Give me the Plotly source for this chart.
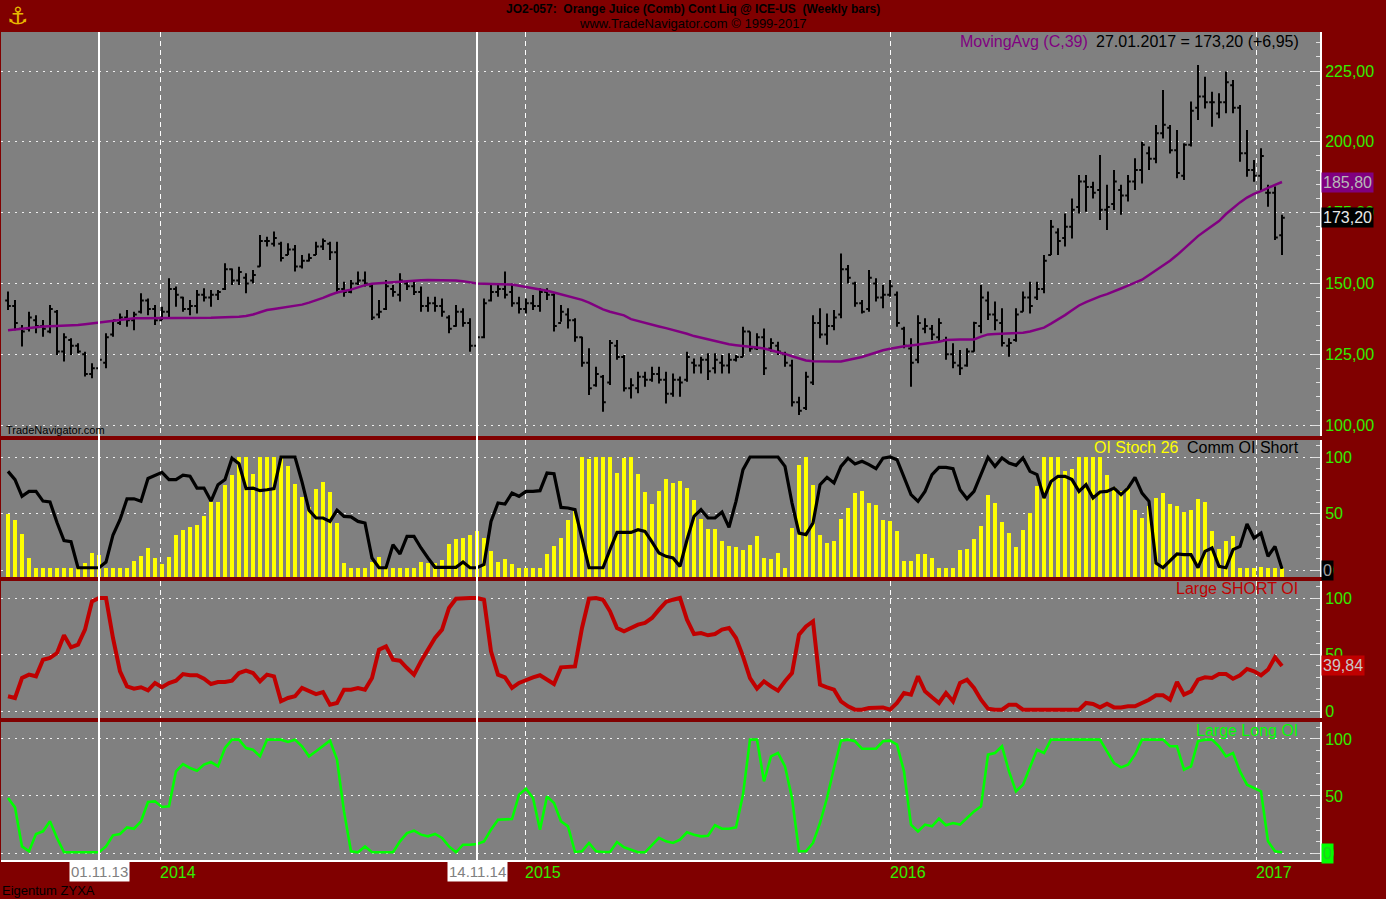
import plotly.graph_objects as go
from plotly.subplots import make_subplots
import pandas as pd

# ---------------- data (weekly bars, Fridays) ----------------
START = "2013-08-02"
N_WEEKS = 183
dates = pd.date_range(START, periods=N_WEEKS, freq="7D")

OPEN = [
    144, 142, 134, 134, 137, 135, 133, 140, 126, 130,
    128, 125, 118, 120, 122, 132, 136, 138, 137, 140,
    144, 141, 137, 140, 148, 145, 141, 142, 146, 145,
    146, 148, 155, 151, 152, 151, 156, 165, 164, 164,
    160, 162, 156, 158, 160, 163, 164, 161, 148, 147,
    150, 151, 149, 139, 141, 148, 146, 150, 149, 147,
    142, 143, 142, 138, 135, 140, 136, 128, 131, 144,
    147, 148, 147, 143, 141, 143, 142, 147, 146, 136,
    139, 137, 131, 122, 114, 117, 115, 128, 124, 113,
    113, 117, 116, 118, 116, 111, 116, 116, 122, 121,
    123, 120, 122, 121, 123, 124, 133, 127, 131, 127,
    128, 125, 121, 108, 106, 115, 136, 132, 135, 139,
    155, 150, 143, 141, 150, 145, 146, 146, 134, 127,
    123, 134, 134, 131, 130, 125, 121, 121, 126, 135,
    144, 139, 136, 128, 130, 140, 145, 145, 148, 160,
    168, 166, 170, 177, 186, 184, 183, 176, 178, 183,
    181, 186, 190, 196, 194, 203, 205, 197, 188, 199,
    212, 216, 214, 210, 214, 220, 212, 196, 190, 188,
    182, 182, 167,
]
HIGH = [
    147.1, 144.1, 135.3, 140.0, 138.8, 137.1, 142.4, 140.6, 132.4, 130.6,
    128.9, 125.9, 121.8, 125.3, 132.4, 137.1, 139.4, 140.6, 140.0, 146.5,
    144.7, 142.4, 141.8, 151.8, 148.9, 145.3, 144.1, 147.7, 148.3, 147.7,
    147.7, 157.1, 155.3, 155.9, 153.6, 154.7, 167.1, 166.5, 168.3, 164.7,
    164.2, 163.6, 160.0, 160.6, 164.7, 165.9, 164.7, 164.7, 150.6, 151.2,
    154.2, 154.2, 149.4, 144.1, 151.2, 149.4, 153.6, 150.6, 150.6, 148.9,
    145.3, 145.3, 144.7, 138.8, 142.4, 141.2, 137.7, 133.5, 144.7, 149.4,
    150.0, 154.2, 150.0, 145.3, 144.7, 145.9, 148.3, 148.3, 146.5, 142.4,
    141.2, 137.7, 131.2, 127.1, 120.6, 117.7, 130.0, 130.0, 124.7, 116.5,
    118.8, 118.8, 120.6, 120.6, 118.8, 118.2, 117.1, 125.9, 123.5, 124.1,
    125.3, 125.3, 124.7, 125.3, 124.7, 134.7, 133.0, 132.4, 134.1, 130.6,
    129.4, 125.9, 123.0, 110.0, 118.8, 138.8, 141.2, 139.4, 140.6, 160.6,
    156.5, 150.6, 144.1, 154.7, 151.8, 149.4, 151.2, 147.1, 134.7, 130.6,
    138.8, 137.7, 135.3, 137.7, 131.2, 128.9, 126.5, 127.1, 136.5, 149.4,
    147.1, 143.6, 141.2, 130.6, 141.2, 147.1, 150.6, 150.6, 160.0, 172.4,
    169.5, 174.7, 180.0, 188.3, 188.3, 185.9, 195.3, 184.8, 190.0, 184.8,
    188.3, 194.2, 200.0, 198.3, 205.9, 218.3, 205.9, 204.2, 199.5, 214.2,
    227.1, 223.0, 217.7, 217.1, 224.8, 221.8, 213.0, 204.2, 193.6, 197.7,
    184.8, 184.2, 174.2,
]
LOW = [
    140.6, 133.5, 127.7, 133.0, 132.4, 131.2, 132.4, 124.7, 122.4, 124.7,
    125.3, 117.1, 116.5, 117.1, 120.0, 131.2, 135.3, 134.7, 133.5, 139.4,
    138.8, 135.3, 137.1, 137.7, 141.8, 140.0, 138.8, 139.4, 143.6, 141.8,
    144.1, 147.7, 149.4, 149.4, 146.5, 150.0, 155.9, 163.0, 163.0, 157.7,
    160.0, 154.2, 155.3, 157.7, 160.0, 161.8, 158.3, 146.5, 145.3, 146.5,
    149.4, 148.9, 137.1, 137.7, 140.6, 145.3, 143.6, 147.7, 145.9, 140.0,
    140.0, 140.0, 138.2, 132.4, 134.7, 134.7, 125.9, 124.1, 130.6, 143.6,
    145.3, 144.7, 141.8, 139.4, 139.4, 140.6, 140.0, 144.1, 133.0, 136.5,
    134.1, 129.4, 120.6, 110.6, 113.5, 104.7, 114.1, 123.0, 111.8, 109.4,
    111.2, 113.5, 115.3, 114.7, 107.6, 110.0, 110.0, 115.3, 118.2, 118.2,
    115.9, 118.2, 118.2, 118.2, 122.4, 124.1, 125.9, 126.5, 117.7, 125.9,
    124.7, 120.6, 106.5, 103.5, 105.3, 114.1, 130.6, 128.3, 133.5, 137.7,
    150.0, 141.8, 139.4, 140.0, 143.6, 141.2, 145.3, 134.7, 127.1, 113.5,
    121.8, 132.4, 130.0, 129.4, 123.0, 120.0, 117.7, 120.6, 125.9, 132.4,
    137.1, 133.5, 127.7, 124.1, 129.4, 140.0, 139.4, 144.1, 146.5, 160.0,
    160.0, 163.0, 165.9, 174.7, 175.3, 180.0, 172.4, 168.9, 175.9, 174.2,
    178.9, 183.0, 185.3, 190.0, 192.4, 201.2, 195.9, 187.1, 186.5, 198.3,
    207.7, 211.8, 205.3, 208.3, 210.1, 210.1, 193.0, 187.7, 185.9, 182.4,
    177.1, 165.3, 160.0,
]
CLOSE = [
    142, 136, 133, 138, 135, 134, 141, 126, 131, 128,
    126, 118, 120, 123, 131, 137, 138, 137, 139, 144,
    141, 137, 140, 148, 146, 141, 142, 146, 145, 146,
    147, 155, 151, 154, 150, 153, 165, 165, 166, 159,
    162, 156, 158, 159, 163, 165, 161, 148, 147, 150,
    151, 150, 138, 140, 149, 147, 151, 149, 147, 142,
    143, 142, 140, 134, 140, 136, 128, 131, 143, 147,
    148, 146, 143, 141, 143, 142, 147, 146, 135, 140,
    137, 131, 122, 113, 118, 108, 129, 124, 113, 114,
    117, 116, 118, 116, 111, 116, 115, 124, 121, 123,
    119, 123, 121, 123, 124, 133, 127, 131, 120, 129,
    126, 122, 108, 105, 117, 136, 132, 135, 138, 155,
    152, 143, 140, 152, 145, 146, 149, 136, 128, 122,
    136, 135, 132, 136, 125, 122, 120, 126, 136, 145,
    139, 137, 129, 129, 139, 145, 142, 148, 158, 170,
    165, 170, 176, 186, 184, 182, 176, 177, 186, 181,
    186, 190, 199, 194, 203, 206, 197, 189, 199, 211,
    216, 214, 214, 214, 221, 212, 196, 190, 188, 195,
    182, 166.25, 173.2,
]
MA39 = [
    133.5, 133.8, 134.1, 134.4, 134.7, 134.8, 134.9, 135.0, 135.0, 135.1,
    135.3, 135.6, 135.9, 136.2, 136.5, 136.8, 137.1, 137.4, 137.7, 137.7,
    137.7, 137.7, 137.7, 137.7, 137.8, 137.8, 137.8, 137.9, 137.9, 137.9,
    138.0, 138.0, 138.0, 138.2, 138.5, 139.0, 139.8, 140.6, 141.0, 141.4,
    141.8, 142.1, 142.5, 143.2, 144.0, 144.9, 145.9, 146.8, 147.3, 147.8,
    148.6, 149.4, 149.9, 150.1, 150.3, 150.5, 150.7, 150.9, 151.0, 151.1,
    151.2, 151.2, 151.2, 151.1, 151.0, 150.8, 150.4, 150.0, 149.9, 149.8,
    149.8, 149.7, 149.6, 149.2, 148.8, 148.4, 147.9, 147.4, 146.8, 146.2,
    145.5, 144.9, 144.2, 143.2, 142.0, 140.8, 140.0, 139.4, 138.7, 137.4,
    136.7, 136.0, 135.4, 134.8, 134.2, 133.6, 132.9, 132.2, 131.4, 130.8,
    130.2, 129.6, 129.0, 128.5, 128.2, 128.0, 127.8, 127.4, 127.0, 126.4,
    125.8, 125.1, 124.3, 123.5, 122.8, 122.5, 122.4, 122.4, 122.4, 122.4,
    122.9, 123.5, 124.0, 124.8, 125.6, 126.4, 126.9, 127.4, 127.8, 128.1,
    128.4, 128.6, 129.0, 129.4, 130.0, 130.2, 130.2, 130.2, 130.2, 131.2,
    132.0, 132.1, 132.2, 132.3, 132.5, 132.6, 133.0, 133.6, 134.4, 135.8,
    137.2, 138.8, 140.5, 142.2, 143.4, 144.5, 145.4, 146.2, 147.3, 148.2,
    149.2, 150.3, 151.3, 153.0, 154.6, 156.3, 158.0, 160.0, 162.2, 164.4,
    166.7, 168.5, 170.3, 172.0, 174.5, 176.6, 178.6, 180.3, 181.6, 182.6,
    183.8, 184.8, 185.8,
]
OI_STOCH = [
    49.5, 44.5, 31.8, 10.6, 2, 2, 2, 2, 2, 2,
    2, 6, 15, 13.5, 2, 2, 2, 2, 8, 12,
    19.5, 11, 5.3, 11.5, 31.3, 35.7, 37.7, 39.5, 47.5, 60.2,
    60.2, 75.5, 83.8, 100, 100, 85, 100, 100, 100, 100,
    91.7, 76, 64.3, 56, 72, 78, 69, 41.6, 6.2, 2,
    2, 2, 7, 11.5, 2, 2, 2, 2, 2, 7,
    6.2, 6.2, 9, 23, 27, 28.3, 31.3, 34.2, 28.3, 16.5,
    7, 10, 5.3, 2, 2, 2, 2, 14.2, 20.9, 28.3,
    44.5, 53, 100, 98.5, 100, 100, 100, 85.8, 99, 100,
    85, 69, 58.4, 69.6, 80.8, 77, 79, 72.5, 62.2, 45.4,
    36.6, 36.6, 25.4, 20.9, 20, 17.4, 22.4, 29.8, 10.6, 10,
    15, 2, 37.2, 92.6, 100, 75.5, 31.3, 23.9, 25.4, 45.1,
    54.9, 68.1, 70.2, 59.3, 57.8, 44.5, 43.6, 34.8, 8.3, 8.3,
    14.2, 14.2, 10.6, 2, 2, 2, 18, 18.9, 27.7, 38.6,
    66, 59.3, 42.5, 32.7, 20, 35.7, 50.4, 74, 100, 100,
    100, 87.3, 89.7, 100, 100, 100, 100, 84.4, 73.1, 69.6,
    73.1, 53.4, 46, 56.3, 63.7, 68.1, 58.4, 56.3, 51.3, 53.4,
    63.1, 60.2, 34.8, 18.9, 25.4, 29.8, 2, 2, 2, 2.7,
    2, 2, 2,
]
COMM_OI_SHORT = [
    87.3, 80, 65.2, 69.6, 69.6, 61, 60.2, 42, 26, 25,
    2, 2, 2, 2, 7, 31, 44.5, 63, 63, 60.8,
    81, 84, 86.4, 80, 80, 84, 83, 72.5, 72.5, 61,
    75.5, 80, 99, 94, 72, 72.5, 70.2, 71, 72, 100,
    100, 100, 78, 53, 46, 46, 43, 53, 47.5, 47,
    43, 41.6, 10.6, 2, 2, 22.4, 14.2, 29.8, 29.8, 19.5,
    10.6, 2.4, 2.4, 2.4, 2.4, 7, 2, 2, 5, 43,
    59.3, 58.4, 68.1, 65.2, 69.6, 69.6, 70.2, 85.8, 85.2, 55.4,
    54.9, 53.4, 26.8, 2, 2, 2, 18, 33.3, 33.3, 33.3,
    35.7, 34.2, 24.8, 15, 12.1, 10.6, 3.2, 26.8, 47.5, 53.4,
    46, 46, 51.3, 37.7, 60.8, 88.8, 100, 100, 100, 100,
    100, 91.7, 59.3, 32.7, 31.3, 41.6, 75.5, 82, 77, 91.7,
    99, 93.8, 96.2, 93.2, 89.7, 99, 100, 97.6, 81.4, 66.7,
    60.8, 69.6, 84.4, 90.8, 90.8, 89.7, 71.1, 63.1, 69.6, 84.4,
    99.7, 91.7, 99.1, 94.7, 92.6, 99.1, 87.3, 84.4, 63.7, 78.4,
    82.9, 82.9, 80, 69.6, 75.5, 63.7, 69, 69.6, 72.5, 66.7,
    72.5, 82, 68.1, 60.8, 6.2, 2, 8, 14.2, 13.6, 13.6,
    2, 16.5, 19.5, 3.2, 2, 18, 20.9, 40.7, 28.3, 32.7,
    12.1, 20.9, 1,
]
LARGE_SHORT_OI = [
    13, 11.5, 29.2, 32.2, 30.7, 45.4, 46.9, 51.3, 67, 56.3,
    58.7, 72, 97, 100, 100, 64.6, 35.1, 21.8, 19.8, 21,
    18.3, 24.8, 21, 24.8, 26.8, 32.7, 31.6, 31.6, 28.6, 23.9,
    25.7, 25.7, 26.8, 33.6, 35.7, 33.6, 26.3, 32.2, 30.7, 8.6,
    11.5, 13, 20.4, 18, 15, 16.8, 5.6, 7.1, 18.9, 18.9,
    20.4, 18.9, 29.2, 54.3, 57.2, 45.4, 44.5, 38, 32.2, 44,
    54.3, 64.6, 72, 91.2, 99.4, 100, 100, 100, 98.5, 52.8,
    32.2, 29.8, 20.4, 24.8, 27.7, 29.8, 31.6, 27.7, 23.9, 38.6,
    39.5, 39.5, 73.5, 99.4, 100, 98.5, 88.2, 73.5, 70.5, 73.5,
    76.4, 77.9, 82.3, 89.7, 96.5, 98.5, 100, 80.8, 68.1, 69,
    67, 68.1, 72, 73.5, 64.6, 48.4, 29.2, 19.8, 26.3, 21.8,
    18, 26.3, 33.6, 67.6, 74.9, 79.4, 23.3, 21, 18.9, 8.6,
    4.1, 1.2, 1.2, 2.7, 3.2, 3.2, 1.2, 7.1, 15.9, 14.5,
    30.7, 17.4, 12.1, 7.1, 15.9, 8.6, 24.8, 27.7, 20.4, 10,
    2.1, 1.2, 1.2, 5.6, 5.6, 1.2, 1.2, 1.2, 1.2, 1.2,
    1.2, 1.2, 1.2, 1.2, 7.1, 6.2, 3.2, 6.5, 3.2, 3.2,
    4.1, 4.1, 7.1, 10, 13.9, 13.9, 10, 25.7, 14.5, 17.4,
    27.7, 29.8, 29.2, 32.7, 32.7, 28.6, 31.6, 37.2, 35.1, 31.6,
    36.6, 47.5, 39.84,
]
LARGE_LONG_OI = [
    48.2, 40, 5.8, 1.5, 16.7, 19, 27.8, 13.2, 0.6, 0.6,
    0.6, 0.6, 0.6, 0.6, 5.8, 15.5, 16.7, 22.5, 21.3, 27.8,
    44.7, 45.3, 40.4, 40.9, 71.6, 78, 74.6, 72.2, 77.5, 79.8,
    76, 92.1, 99.4, 99.4, 92.1, 90.6, 84.8, 99.4, 99.4, 99.4,
    97.4, 99.4, 93.6, 84.8, 89.2, 93.6, 98.5, 81.9, 36.5, 1.5,
    0.6, 5.8, 0.6, 0.6, 0.6, 0.6, 10.2, 17.5, 19.6, 16.1,
    14.6, 16.7, 13.2, 5.8, 0.6, 7.3, 7.3, 7.9, 10.2, 20.5,
    29.2, 29.2, 29.8, 51.2, 56.4, 48.2, 20.5, 49.7, 43.9, 27.8,
    23.4, 0.9, 1.5, 8.8, 1.5, 0.9, 0.9, 9.6, 5, 2.9,
    0.6, 0.6, 7.3, 13.2, 10.2, 8.8, 11.7, 18.1, 16.1, 14.6,
    15.2, 24.3, 21.3, 21.3, 22.5, 51.2, 99.4, 99.4, 62.9, 84.8,
    87.7, 76, 48.2, 1.5, 1.5, 8.8, 26.3, 48.2, 74.6, 98.5,
    99.4, 98, 91.5, 91.5, 91.5, 98, 98.5, 95, 71.6, 24.9,
    19, 24.9, 23.4, 30.1, 24.3, 26.3, 24.9, 30.7, 36.5, 40.9,
    86.3, 87.7, 93.6, 71.6, 54.1, 59.9, 74.6, 90.6, 87.7, 99.4,
    99.4, 99.4, 99.4, 99.4, 99.4, 99.4, 99.4, 89.2, 78.9, 75.1,
    77.5, 86.3, 99.4, 99.4, 99.4, 99.4, 93.6, 93.6, 73.1, 76,
    98, 99.4, 99.4, 93.6, 84.8, 87.7, 71.6, 59.9, 57, 54.1,
    10.2, 1.5, 0.6,
]

PRICE_TICKS = [100, 125, 150, 175, 200, 225]
IND_TICKS = [0, 50, 100]
YEAR_STARTS = ["2014-01-01", "2015-01-01", "2016-01-01", "2017-01-01"]
YEAR_LABELS = ["2014", "2015", "2016", "2017"]
MARK_DATES = ["2013-11-01", "2014-11-14"]
MARK_LABELS = ["01.11.13", "14.11.14"]
LAST_DATE_LABEL = "27.01.2017"
LAST_CLOSE = 173.20
LAST_CHANGE = 6.95
LAST_MA = 185.80
LAST_COMM = 0
LAST_SHORT = 39.84
LAST_LONG = 0

# ---------------- layout geometry ----------------
W, H = 1386, 899
ML, MR, MT, MB = 1, 66, 32, 39
PW, PH = W - ML - MR, H - MT - MB


def py(y):
    return (H - MB - y) / PH


def px(x):
    return (x - ML) / PW


def fmt(v):
    return f"{v:.2f}".replace(".", ",")


FONT = "Liberation Sans, Arial, sans-serif"
NARROW = "Liberation Sans Narrow, Arial Narrow, Liberation Sans, Arial, sans-serif"
BG = "#800000"
PANEL = "#808080"
TICKGREEN = "#33EE00"
GRID = "#EEEEEE"

fig = make_subplots(rows=4, cols=1, shared_xaxes=True, vertical_spacing=0.004)

fig.add_trace(go.Ohlc(x=dates, open=OPEN, high=HIGH, low=LOW, close=CLOSE,
                      increasing=dict(line=dict(color="#000000", width=2)),
                      decreasing=dict(line=dict(color="#000000", width=2)),
                      tickwidth=0.4, hoverinfo="skip"), row=1, col=1)
fig.add_trace(go.Scatter(x=dates, y=MA39, mode="lines",
                         line=dict(color="#800080", width=2.5), hoverinfo="skip"),
              row=1, col=1)

IND_BOTTOM = -6.19
fig.add_trace(go.Bar(x=dates, y=[v - IND_BOTTOM for v in OI_STOCH], base=IND_BOTTOM,
                     marker=dict(color="#FFFF00", line=dict(width=0)),
                     width=4.2 * 86400000, hoverinfo="skip"), row=2, col=1)
fig.add_trace(go.Scatter(x=dates, y=COMM_OI_SHORT, mode="lines",
                         line=dict(color="#000000", width=3.2), hoverinfo="skip"),
              row=2, col=1)
fig.add_trace(go.Scatter(x=dates, y=LARGE_SHORT_OI, mode="lines",
                         line=dict(color="#C00000", width=4), hoverinfo="skip"),
              row=3, col=1)
fig.add_trace(go.Scatter(x=dates, y=LARGE_LONG_OI, mode="lines",
                         line=dict(color="#00FF00", width=2.6), hoverinfo="skip"),
              row=4, col=1)

X_RANGE = ["2013-07-26", "2017-03-06"]
fig.update_xaxes(range=X_RANGE, rangeslider_visible=False, tickmode="array",
                 tickvals=YEAR_STARTS, showticklabels=False, ticks="",
                 showgrid=True, gridcolor="#FFFFFF", griddash="5px,4px", gridwidth=1,
                 zeroline=False, showline=False, domain=[0, 1])
fig.update_xaxes(showline=True, linecolor="#FFFFFF", linewidth=2, row=4, col=1)

common_y = dict(side="right", showline=True, linecolor="#FFFFFF", linewidth=2,
                ticks="inside", ticklen=8, tickcolor="#E0E0E0", tickwidth=1,
                showgrid=True, gridcolor=GRID, griddash="2px,5px", gridwidth=1,
                zeroline=False, tickfont=dict(family=FONT, size=16, color=TICKGREEN),
                fixedrange=True)

fig.update_yaxes(**common_y)
fig.update_yaxes(domain=[py(436), 1.0], range=[96.12, 238.77], tickmode="array",
                 tickvals=PRICE_TICKS, tickformat=".2f",
                 minor=dict(dtick=5, ticks="inside", ticklen=4, tickcolor="#E0E0E0",
                            showgrid=False), row=1, col=1)
ind_minor = dict(dtick=10, ticks="inside", ticklen=4, tickcolor="#E0E0E0", showgrid=False)
fig.update_yaxes(domain=[py(577), py(440)], range=[IND_BOTTOM, 115.04], tickmode="array",
                 tickvals=IND_TICKS, minor=ind_minor, row=2, col=1)
fig.update_yaxes(domain=[py(718), py(581)], range=[IND_BOTTOM, 115.04], tickmode="array",
                 tickvals=IND_TICKS, minor=ind_minor, row=3, col=1)
fig.update_yaxes(domain=[0, py(722)], range=[-6.14, 114.9], tickmode="array",
                 tickvals=IND_TICKS, minor=ind_minor, row=4, col=1)

shapes = []
for d in MARK_DATES:
    shapes.append(dict(type="line", xref="x", yref="paper", x0=d, x1=d, y0=0, y1=1,
                       line=dict(color="#FFFFFF", width=2), layer="above"))

ann = []


def add_text(text, x, y, color, size=16, xanchor="left", family=FONT, **kw):
    ann.append(dict(text=text, x=x, y=y, xref="paper", yref="paper", showarrow=False,
                    xanchor=xanchor, yanchor="middle",
                    font=dict(family=family, size=size, color=color), **kw))


# title
add_text("<b>JO2-057:  Orange Juice (Comb) Cont Liq @ ICE-US  (Weekly bars)</b>",
         px(693), py(9), "#000000", size=12, xanchor="center", family=NARROW)
add_text("www.TradeNavigator.com © 1999-2017", px(693), py(24), "#000000", size=13,
         xanchor="center", family=NARROW)
add_text("⚓", px(18), py(16), "#E8B800", size=24, xanchor="center",
         family="DejaVu Sans, sans-serif")

# legends
add_text("MovingAvg (C,39)", px(1090), py(41), "#800080", xanchor="right")
add_text(f"{LAST_DATE_LABEL} = {fmt(LAST_CLOSE)} (+{fmt(LAST_CHANGE)})", px(1301), py(41),
         "#000000", xanchor="right")
add_text("OI Stoch 26", px(1181), py(447), "#FFFF00", xanchor="right")
add_text("Comm OI Short", px(1301), py(447), "#000000", xanchor="right")
add_text("Large SHORT OI", px(1300), py(588), "#C00000", xanchor="right")
add_text("Large Long OI", px(1300), py(730), "#00FF00", xanchor="right")
add_text("TradeNavigator.com", px(4), py(430), "#000000", size=11)

# bottom labels
for d, lab in zip(YEAR_STARTS, YEAR_LABELS):
    ann.append(dict(text=lab, x=d, y=py(872), xref="x", yref="paper", showarrow=False,
                    xanchor="left", yanchor="middle", xshift=-2,
                    font=dict(family=FONT, size=16, color=TICKGREEN)))
for d, lab in zip(MARK_DATES, MARK_LABELS):
    ann.append(dict(text=lab, x=d, y=py(871), xref="x", yref="paper", showarrow=False,
                    xanchor="center", yanchor="middle", bgcolor="#FFFFFF", borderpad=1,
                    font=dict(family=FONT, size=15, color="#808080")))
add_text("Eigentum ZYXA", px(0), py(890), "#000000", size=13, family=NARROW)


# last-value boxes on the right axis
def last_box(text, yval, yref, bg, color):
    ann.append(dict(text=text, x=1, y=yval, xref="paper", yref=yref, showarrow=False,
                    xanchor="left", yanchor="middle", xshift=1, bgcolor=bg, borderpad=1,
                    font=dict(family=FONT, size=16, color=color)))


last_box(fmt(LAST_MA), LAST_MA, "y", "#800080", "#B8B8B8")
last_box(fmt(LAST_CLOSE), LAST_CLOSE, "y", "#000000", "#E8E8E8")
last_box(str(LAST_COMM), LAST_COMM, "y2", "#000000", "#A0A0A0")
last_box(fmt(LAST_SHORT), LAST_SHORT, "y3", "#C00000", "#C8C8C8")
last_box(str(LAST_LONG), LAST_LONG, "y4", "#00FF00", "#22CC22")

fig.update_layout(
    width=W, height=H, margin=dict(l=ML, r=MR, t=MT, b=MB, pad=0),
    paper_bgcolor=BG, plot_bgcolor=PANEL, showlegend=False,
    separators=",.", bargap=0, hovermode=False,
    font=dict(family=FONT, size=14, color="#000000"),
    shapes=shapes, annotations=ann,
)

fig.write_html("out.html", include_plotlyjs=True, config={"displayModeBar": False},
               post_script="document.body.style.margin='0';"
                           "document.body.style.overflow='hidden';"
                           "document.body.style.background='#800000';")
